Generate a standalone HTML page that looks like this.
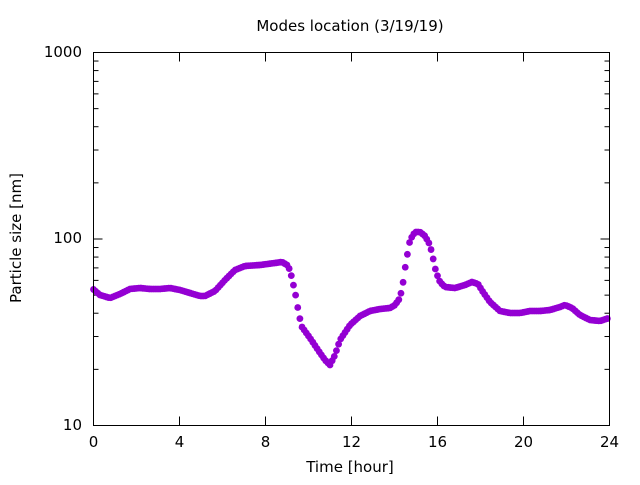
<!DOCTYPE html><html><head><style>body{margin:0;background:#fff}svg text{font-family:"DejaVu Sans","Liberation Sans",sans-serif;font-size:15px;fill:#000}</style></head><body>
<svg id="s" width="640" height="480" xmlns="http://www.w3.org/2000/svg">
<rect width="640" height="480" fill="#fff"/>
<text x="350" y="31" text-anchor="middle">Modes location (3/19/19)</text>
<text x="350" y="472" text-anchor="middle">Time [hour]</text>
<text transform="translate(21,238) rotate(-90)" text-anchor="middle">Particle size [nm]</text>
<g id="ax" stroke="#000" stroke-width="1" fill="none"></g>
<g id="pts" fill="#9400d3"></g>
<rect x="93.5" y="52.5" width="516" height="373" fill="none" stroke="#000"/>
</svg>
<script>
const ns="http://www.w3.org/2000/svg",ax=document.getElementById('ax'),s=document.getElementById('s'),P=document.getElementById('pts');
function L(x1,y1,x2,y2){const l=document.createElementNS(ns,'line');l.setAttribute('x1',x1);l.setAttribute('y1',y1);l.setAttribute('x2',x2);l.setAttribute('y2',y2);ax.appendChild(l);}
function T(x,y,t,a){const e=document.createElementNS(ns,'text');e.setAttribute('x',x);e.setAttribute('y',y);e.setAttribute('text-anchor',a);e.textContent=t;s.appendChild(e);}
const x0=93.5,x1=609.5,yb=425.5,dec=186.5;
for(let i=0;i<=6;i++){const x=x0+86*i;L(x,yb,x,yb-9);L(x,52.5,x,61.5);T(x,447,String(4*i),'middle');}
for(let d=0;d<2;d++)for(let m=1;m<=10;m++){const y=yb-dec*(d+Math.log10(m));const len=(m==1||m==10)?9:5;L(x0,y,x0+len,y);L(x1,y,x1-len,y);}
T(82,430,'10','end');T(82,243,'100','end');T(82,57,'1000','end');
const k=[[93,289],[100,295],[110,298],[120,294],[130,289],[140,288],[150,289],[160,289],[170,288],[180,290],[190,293],[200,296],[205,296],[215,291],[225,280],[235,270],[245,266],[260,265],[275,263],[282,262],[287,265],[290,270],[293,283],[296,297],[299,315],[302,327],[310,338],[318,350],[325,360],[330,365],[335,355],[340,340],[350,325],[360,316],[370,311],[380,309],[390,308],[395,305],[400,298],[403,283],[406,262],[410,240],[415,232],[420,232],[425,236],[430,245],[433,258],[436,272],[440,282],[445,287],[455,288],[465,285],[472,282],[478,284],[483,292],[490,302],[500,311],[510,313],[520,313],[530,311],[540,311],[550,310],[560,307],[565,305],[572,308],[580,315],[590,320],[600,321],[609,318]];
function f(x){for(let i=0;i<k.length-1;i++){if(x<=k[i+1][0]){const t=(x-k[i][0])/(k[i+1][0]-k[i][0]);return k[i][1]+t*(k[i+1][1]-k[i][1]);}}return k[k.length-1][1];}
for(let x=93.5;x<=609;x+=2.15){const c=document.createElementNS(ns,'circle');c.setAttribute('cx',x);c.setAttribute('cy',f(x));c.setAttribute('r',3.4);P.appendChild(c);}
</script></body></html>
